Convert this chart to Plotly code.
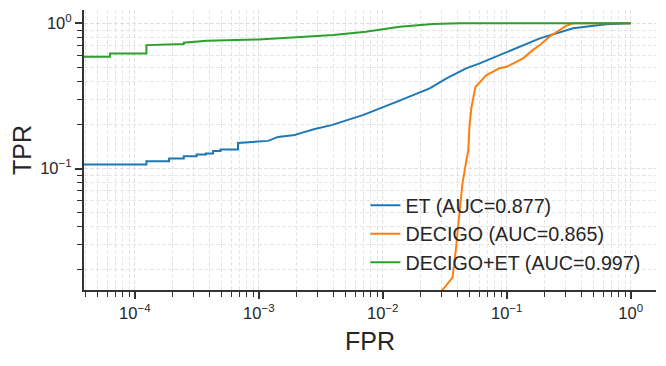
import plotly.graph_objects as go

# ROC points (FPR, TPR)
et_fpr = [3e-5, 1.24e-4, 1.24e-4, 1.89e-4, 1.89e-4, 2.48e-4, 2.48e-4, 3.15e-4, 3.15e-4,
          3.74e-4, 3.74e-4, 4.28e-4, 4.28e-4, 4.91e-4, 4.91e-4, 6.8e-4, 6.8e-4, 1.19e-3,
          1.43e-3, 1.95e-3, 2.21e-3, 2.83e-3, 3.86e-3, 4.94e-3, 6.9e-3, 0.0129, 0.0239,
          0.0327, 0.047, 0.0605, 0.1, 0.185, 0.343, 0.637, 1.0]
et_tpr = [0.1066, 0.1066, 0.112, 0.112, 0.117, 0.117, 0.1216, 0.1216, 0.125,
          0.125, 0.127, 0.127, 0.132, 0.132, 0.135, 0.135, 0.150, 0.155,
          0.165, 0.170, 0.176, 0.187, 0.199, 0.213, 0.233, 0.288, 0.356,
          0.418, 0.49, 0.53, 0.637, 0.788, 0.924, 0.984, 1.0]

decigo_fpr = [0.0298, 0.0365, 0.0388, 0.0412, 0.0439, 0.0473, 0.049, 0.0501, 0.052,
              0.056, 0.0598, 0.0686, 0.077, 0.087, 0.1, 0.119, 0.1355, 0.162, 0.185,
              0.221, 0.252, 0.30, 0.343, 1.0]
decigo_tpr = [0.0143, 0.0177, 0.0273, 0.0464, 0.0788, 0.114, 0.134, 0.199, 0.266,
              0.366, 0.39, 0.44, 0.464, 0.49, 0.502, 0.543, 0.574, 0.654, 0.709,
              0.809, 0.875, 0.96, 1.0, 1.0]

both_fpr = [3e-5, 6.3e-5, 6.3e-5, 1.24e-4, 1.24e-4, 2.48e-4, 2.48e-4, 3.8e-4, 1e-3,
            1.9e-3, 4e-3, 7.3e-3, 0.0137, 0.0253, 0.042, 1.0]
both_tpr = [0.589, 0.589, 0.62, 0.62, 0.708, 0.72, 0.735, 0.759, 0.775,
            0.796, 0.83, 0.875, 0.947, 0.989, 1.0, 1.0]

labels = ["ET (AUC=0.877)", "DECIGO (AUC=0.865)", "DECIGO+ET (AUC=0.997)"]
colors = ["#1f77b4", "#ff7f0e", "#2ca02c"]

x_ticks = [1e-4, 1e-3, 1e-2, 1e-1, 1]
x_ticktext = ["10<sup>\u22124</sup>", "10<sup>\u22123</sup>", "10<sup>\u22122</sup>",
              "10<sup>\u22121</sup>", "10<sup>0</sup>"]
y_ticks = [1e-1, 1]
y_ticktext = ["10<sup>\u22121</sup>", "10<sup>0</sup>"]

x_minor = [m * 10.0 ** e for e in range(-5, 0) for m in range(2, 10)]
y_minor = [m * 10.0 ** e for e in range(-2, 0) for m in range(2, 10)]

FONT = "Liberation Sans, Arial, sans-serif"
INK = "#262626"

fig = go.Figure()
series = [(et_fpr, et_tpr), (decigo_fpr, decigo_tpr), (both_fpr, both_tpr)]
for (fx, ty), name, c in zip(series, labels, colors):
    fig.add_trace(go.Scatter(x=fx, y=ty, mode="lines", name=name,
                             line=dict(color=c, width=2)))

axis_common = dict(
    type="log", automargin=False,
    showline=True, linecolor="#333333", linewidth=2,
    ticks="outside", ticklen=7, tickwidth=1.6, tickcolor="#333333",
    tickfont=dict(size=16.5, color=INK, family=FONT),
    showgrid=True, gridcolor="#e0e0e0", gridwidth=1, griddash="4px,2px",
    zeroline=False, mirror=False,
)

fig.update_xaxes(
    **axis_common,
    range=[-4.41, 0.204],
    tickmode="array", tickvals=x_ticks, ticktext=x_ticktext,
    minor=dict(tickmode="array", tickvals=x_minor, ticks="outside", ticklen=5,
               tickwidth=1.2, tickcolor="#333333", showgrid=True,
               gridcolor="#e6e6e6", gridwidth=1, griddash="4px,2px"),
    title=dict(text="FPR", font=dict(size=25, color=INK, family=FONT), standoff=12),
)
fig.update_yaxes(
    **axis_common,
    range=[-1.837, 0.092],
    tickmode="array", tickvals=y_ticks, ticktext=y_ticktext,
    minor=dict(tickmode="array", tickvals=y_minor, ticks="outside", ticklen=5,
               tickwidth=1.2, tickcolor="#333333", showgrid=True,
               gridcolor="#e6e6e6", gridwidth=1, griddash="4px,2px"),
    title=dict(text="TPR", font=dict(size=25, color=INK, family=FONT), standoff=12),
)

# page body adds an 8px offset, margins compensate for it
fig.update_layout(
    width=666, height=366,
    margin=dict(l=76, r=18, t=2, b=84),
    paper_bgcolor="white", plot_bgcolor="white",
    font=dict(family=FONT, color=INK),
    showlegend=True,
    legend=dict(x=0.492, y=0.372, xanchor="left", yanchor="top",
                bgcolor="rgba(0,0,0,0)", borderwidth=0,
                font=dict(size=19.7, color=INK, family=FONT)),
)

fig.write_html("out.html")
